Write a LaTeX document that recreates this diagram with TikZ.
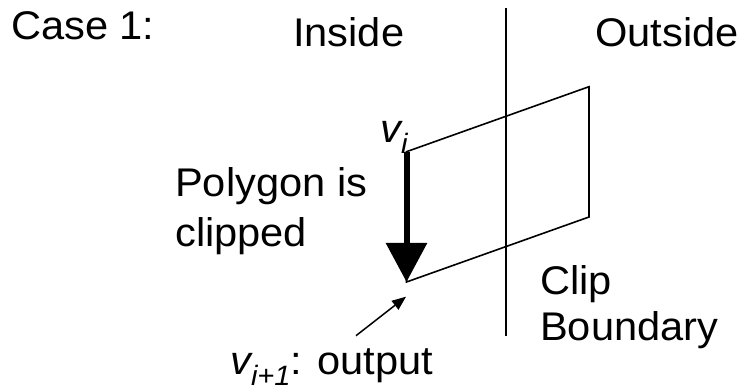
\documentclass[tikz,border=0pt]{standalone}
\usepackage{fontspec}
\setmainfont[FakeStretch=1.04]{Liberation Sans}
\usetikzlibrary{arrows.meta}
\tikzset{
  lbl/.style={anchor=base west, inner sep=0pt, font=\fontsize{40}{46}\selectfont},
  thin line/.style={line width=1.6pt, line join=miter},
  bigarrow/.style={line width=6pt, -{Triangle[length=39pt,width=40pt]}},
  smallarrow/.style={line width=1.5pt, -{Triangle[length=14pt,width=11pt]}}
}
\newcommand{\subi}[1]{\raisebox{-0.26em}{\fontsize{28}{28}\selectfont\itshape #1}}
\begin{document}
\begin{tikzpicture}[x=1pt,y=1pt]
\useasboundingbox (0,0) rectangle (741,390);
% clip boundary
\coordinate (btop) at (506,382);
\coordinate (bbot) at (506,54.3);
\draw[thin line] (btop) -- (bbot);
% polygon vertices
\coordinate (vi) at (406.5,238.3);
\coordinate (tr) at (589,303.3);
\coordinate (br) at (589,173);
\coordinate (vn) at (406.5,108);
\draw[thin line] (vi) -- (tr) -- (br) -- (vn) -- cycle;
\draw[bigarrow] (vi) -- (vn);
% labels
\node[lbl] (case) at (11,350.7) {Case 1:};
\node[lbl] (inside) at (293,343.3) {Inside};
\node[lbl] (outside) at (595,343.3) {Outside};
\node[lbl] (vilbl) at (380,247.3) {\itshape v\subi{i}};
\node[lbl] (poly) at (175,193.5) {Polygon is};
\node[lbl] (clipped) at (175,143.5) {clipped};
\node[lbl] (clip) at (540,95) {Clip};
\node[lbl] (bound) at (540,49) {Boundary};
\node[lbl] (out) at (230,15) {\itshape v\subi{i+1}\upshape: output};
\coordinate (atail) at (356,54.3);
\coordinate (ahead) at (406,93.3);
\draw[smallarrow] (atail) -- (ahead);
\end{tikzpicture}
\end{document}
